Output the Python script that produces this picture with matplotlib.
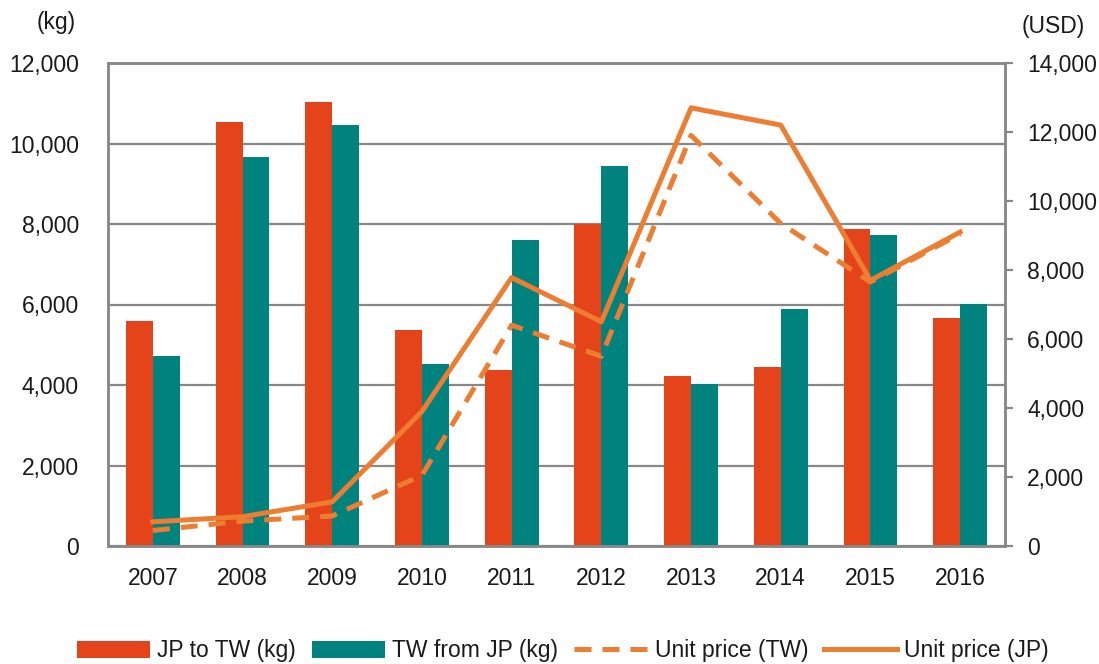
import matplotlib
matplotlib.use("Agg")
import matplotlib.pyplot as plt
import numpy as np
from matplotlib.ticker import FuncFormatter, MultipleLocator

plt.rcParams['font.family'] = ['Liberation Sans', 'DejaVu Sans']

# Annual trade volume and unit prices
years = ["2007", "2008", "2009", "2010", "2011", "2012", "2013", "2014", "2015", "2016"]
jp_to_tw = [5600, 10530, 11030, 5370, 4370, 8000, 4220, 4450, 7880, 5660]
tw_from_jp = [4720, 9660, 10460, 4520, 7600, 9440, 4020, 5890, 7730, 6010]
price_tw = [450, 720, 870, 2050, 6400, 5500, 11900, 9350, 7650, 9050]
price_jp = [700, 850, 1280, 3900, 7780, 6500, 12700, 12200, 7700, 9100]

C_JP = "#E5431A"
C_TW = "#00827F"
C_LINE = "#ED7D31"
C_GRID = "#888888"
C_TEXT = "#1a1a1a"
FS = 16.5

fig = plt.figure(figsize=(10.99, 6.64), dpi=100)
ax = fig.add_axes([108 / 1099, 1 - 546 / 664, (1005 - 108) / 1099, (546 - 63) / 664])
ax2 = ax.twinx()

x = np.arange(len(years))
w = 0.3
b1 = ax.bar(x - w / 2, jp_to_tw, w, color=C_JP, label="JP to TW (kg)", zorder=2)
b2 = ax.bar(x + w / 2, tw_from_jp, w, color=C_TW, label="TW from JP (kg)", zorder=2)

ax.set_xlim(-0.5, len(years) - 0.5)
ax.set_ylim(0, 12000)
ax.yaxis.set_major_locator(MultipleLocator(2000))
ax.yaxis.set_major_formatter(FuncFormatter(lambda v, p: f"{int(v):,}"))
ax.grid(axis="y", color=C_GRID, linewidth=1.6, zorder=0)
ax.set_axisbelow(True)
ax.set_xticks(x)
ax.set_xticklabels(years)
ax.tick_params(axis="x", length=0, pad=15, labelsize=FS, labelcolor=C_TEXT)
ax.tick_params(axis="y", length=0, pad=21, labelsize=FS, labelcolor=C_TEXT)

l1, = ax2.plot(x, price_tw, color=C_LINE, linewidth=3.6, linestyle=(0, (3.4, 2.2)),
               label="Unit price (TW)", zorder=3)
l2, = ax2.plot(x, price_jp, color=C_LINE, linewidth=3.6, label="Unit price (JP)", zorder=3)
ax2.set_ylim(0, 14000)
ax2.yaxis.set_major_locator(MultipleLocator(2000))
ax2.yaxis.set_major_formatter(FuncFormatter(lambda v, p: f"{int(v):,}"))
ax2.tick_params(axis="y", direction="out", length=6, width=1.6, color=C_GRID,
                pad=10, labelsize=FS, labelcolor=C_TEXT)

for a in (ax, ax2):
    for s in a.spines.values():
        s.set_color(C_GRID)
        s.set_linewidth(1.8)

fig.text(56 / 1099, 1 - 22 / 664, "(kg)", ha="center", va="center", fontsize=FS, color=C_TEXT)
fig.text(1053 / 1099, 1 - 27 / 664, "(USD)", ha="center", va="center", fontsize=FS, color=C_TEXT)

fig.legend(handles=[b1, b2, l1, l2], loc="center", bbox_to_anchor=(563 / 1099, 1 - 651 / 664),
           ncol=4, frameon=False, fontsize=FS, handlelength=3.2, handleheight=0.8,
           handletextpad=0.3, columnspacing=0.7, labelcolor=C_TEXT)

fig.savefig("out.png", dpi=100)
